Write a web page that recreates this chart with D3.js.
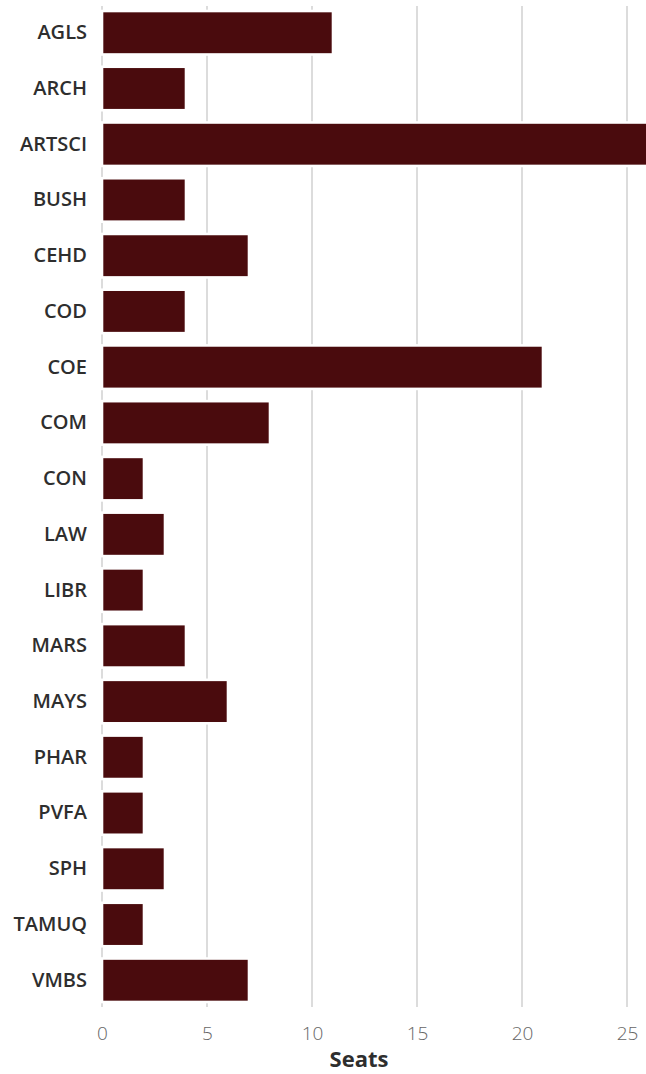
<!DOCTYPE html>
<html>
<head>
<meta charset="utf-8">
<script src="https://cdn.jsdelivr.net/npm/d3@7"></script>
<style>
  body { margin: 0; background: #fff; }
  svg { display: block; font-family: "Open Sans", sans-serif; }
</style>
</head>
<body>
<div id="chart"></div>
<script>
const colleges = ["AGLS", "ARCH", "ARTSCI", "BUSH", "CEHD", "COD", "COE", "COM", "CON",
  "LAW", "LIBR", "MARS", "MAYS", "PHAR", "PVFA", "SPH", "TAMUQ", "VMBS"];
const seats = [11, 4, 26, 4, 7, 4, 21, 8, 2, 3, 2, 4, 6, 2, 2, 3, 2, 7];
const xTicks = [0, 5, 10, 15, 20, 25];

const data = colleges.map((c, i) => ({ college: c, seats: seats[i] }));

const width = 646, height = 1074;
const margin = { top: 6, right: -2, bottom: 67, left: 102 };

const svg = d3.select("#chart")
  .append("svg")
  .attr("width", width)
  .attr("height", height);

const x = d3.scaleLinear()
  .domain([0, 26])
  .range([margin.left, width - margin.right]);

const y = d3.scaleBand()
  .domain(colleges)
  .range([margin.top, height - margin.bottom])
  .paddingInner(0.22)
  .paddingOuter(0.09);

// gridlines
svg.append("g")
  .selectAll("line")
  .data(xTicks)
  .enter()
  .append("line")
  .attr("x1", d => x(d))
  .attr("x2", d => x(d))
  .attr("y1", margin.top)
  .attr("y2", height - margin.bottom)
  .attr("stroke", "#d6d6d6")
  .attr("stroke-width", 1.7);

// bars
svg.append("g")
  .selectAll("rect")
  .data(data)
  .enter()
  .append("rect")
  .attr("x", x(0))
  .attr("y", d => y(d.college))
  .attr("width", d => x(d.seats) - x(0))
  .attr("height", y.bandwidth())
  .attr("fill", "#4a0b0d")
  .attr("stroke", "#fff")
  .attr("stroke-width", 2.6);

// y axis labels
const yAxis = svg.append("g")
  .attr("transform", `translate(${margin.left - 15},0)`)
  .call(d3.axisLeft(y).tickSize(0).tickPadding(0));
yAxis.select(".domain").remove();
yAxis.selectAll("text")
  .attr("font-family", "'Open Sans', sans-serif")
  .attr("font-size", 20)
  .attr("font-weight", 600)
  .attr("fill", "#2e2e2e");

// x axis
const xAxis = svg.append("g")
  .attr("transform", `translate(0,${height - margin.bottom})`)
  .call(d3.axisBottom(x).tickValues(xTicks).tickSize(0).tickPadding(20));
xAxis.select(".domain").remove();
xAxis.selectAll("text")
  .attr("font-family", "'Open Sans', sans-serif")
  .attr("font-size", 19)
  .attr("font-weight", 300)
  .attr("fill", "#666");

svg.append("text")
  .attr("x", 359)
  .attr("y", 1067)
  .attr("text-anchor", "middle")
  .attr("font-size", 22)
  .attr("font-weight", 700)
  .attr("fill", "#2e2e2e")
  .text("Seats");
</script>
</body>
</html>
